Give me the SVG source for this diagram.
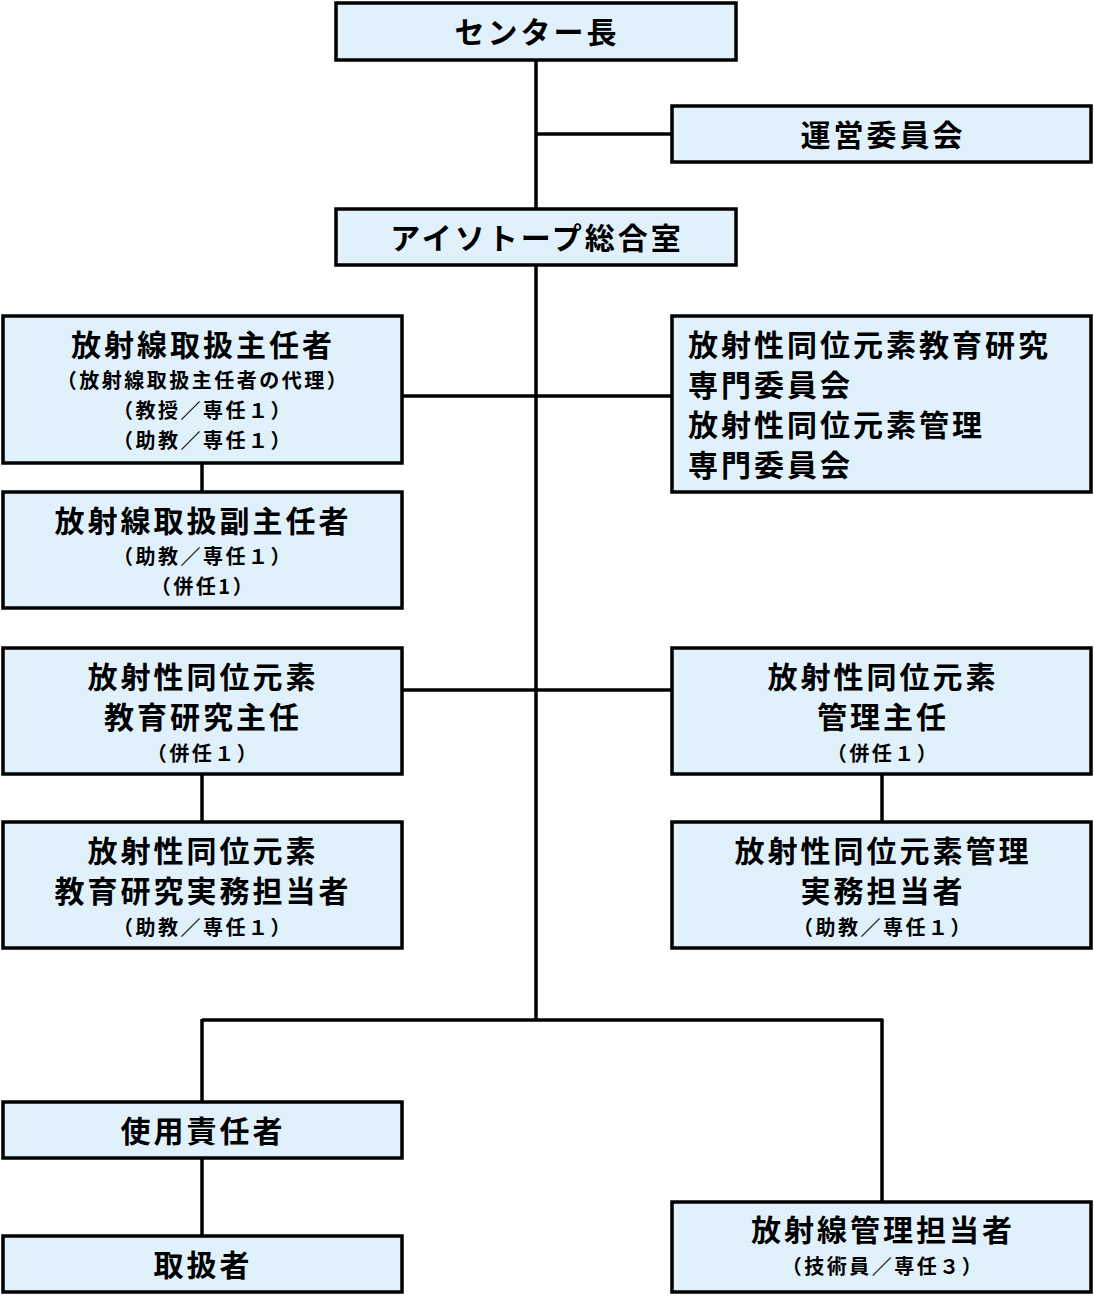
<svg xmlns="http://www.w3.org/2000/svg" width="1094" height="1304" viewBox="0 0 1094 1304">
<style>
.b{fill:#e1f1fc;stroke:#000;stroke-width:3.5}
.c line{stroke:#000;stroke-width:3.5}
text{font-family:"Noto Sans CJK JP","Noto Sans CJK SC",sans-serif;font-weight:bold;fill:#000;text-anchor:middle}
.L{font-size:30px;letter-spacing:3px}
.S{font-size:20px;letter-spacing:2.5px}
.l{text-anchor:start}
</style>
<rect width="1094" height="1304" fill="#fff"/>
<g class="c" id="connectors">
<line x1="536" y1="60" x2="536" y2="1020"/>
<line x1="536" y1="134" x2="672" y2="134"/>
<line x1="402" y1="396" x2="672" y2="396"/>
<line x1="402" y1="690" x2="672" y2="690"/>
<line x1="202" y1="463" x2="202" y2="492"/>
<line x1="202" y1="774" x2="202" y2="822"/>
<line x1="882" y1="774" x2="882" y2="822"/>
<line x1="202" y1="1020" x2="883" y2="1020"/>
<line x1="202" y1="1019" x2="202" y2="1102"/>
<line x1="882" y1="1019" x2="882" y2="1202"/>
<line x1="202" y1="1158" x2="202" y2="1236"/>
</g>
<g id="n1"><rect class="b" x="336" y="3" width="400" height="57"/><text class="L" x="537" y="43">センター長</text></g>
<g id="n2"><rect class="b" x="672" y="106" width="419" height="56"/><text class="L" x="883" y="146">運営委員会</text></g>
<g id="n3"><rect class="b" x="336" y="209" width="400" height="56"/><text class="L" x="537" y="249">アイソトープ総合室</text></g>
<g id="n4"><rect class="b" x="3" y="316" width="399" height="147"/><text class="L" x="203" y="356">放射線取扱主任者</text><text class="S" x="203" y="388">（放射線取扱主任者の代理）</text><text class="S" x="203" y="418">（教授／専任１）</text><text class="S" x="203" y="448">（助教／専任１）</text></g>
<g id="n5"><rect class="b" x="672" y="316" width="419" height="176"/><text class="L l" x="688" y="356">放射性同位元素教育研究</text><text class="L l" x="688" y="396">専門委員会</text><text class="L l" x="688" y="436">放射性同位元素管理</text><text class="L l" x="688" y="476">専門委員会</text></g>
<g id="n6"><rect class="b" x="3" y="492" width="399" height="116"/><text class="L" x="203" y="532">放射線取扱副主任者</text><text class="S" x="203" y="564">（助教／専任１）</text><text class="S" x="203" y="594">（併任1）</text></g>
<g id="n7"><rect class="b" x="3" y="648" width="399" height="126"/><text class="L" x="203" y="688">放射性同位元素</text><text class="L" x="203" y="728">教育研究主任</text><text class="S" x="203" y="761">（併任１）</text></g>
<g id="n8"><rect class="b" x="672" y="648" width="419" height="126"/><text class="L" x="883" y="688">放射性同位元素</text><text class="L" x="883" y="728">管理主任</text><text class="S" x="883" y="761">（併任１）</text></g>
<g id="n9"><rect class="b" x="3" y="822" width="399" height="126"/><text class="L" x="203" y="862">放射性同位元素</text><text class="L" x="203" y="902">教育研究実務担当者</text><text class="S" x="203" y="935">（助教／専任１）</text></g>
<g id="n10"><rect class="b" x="672" y="822" width="419" height="126"/><text class="L" x="883" y="862">放射性同位元素管理</text><text class="L" x="883" y="902">実務担当者</text><text class="S" x="883" y="935">（助教／専任１）</text></g>
<g id="n11"><rect class="b" x="3" y="1102" width="399" height="56"/><text class="L" x="203" y="1142">使用責任者</text></g>
<g id="n12"><rect class="b" x="3" y="1236" width="399" height="56"/><text class="L" x="203" y="1276">取扱者</text></g>
<g id="n13"><rect class="b" x="672" y="1202" width="419" height="90"/><text class="L" x="883" y="1241">放射線管理担当者</text><text class="S" x="883" y="1274">（技術員／専任３）</text></g>
</svg>
